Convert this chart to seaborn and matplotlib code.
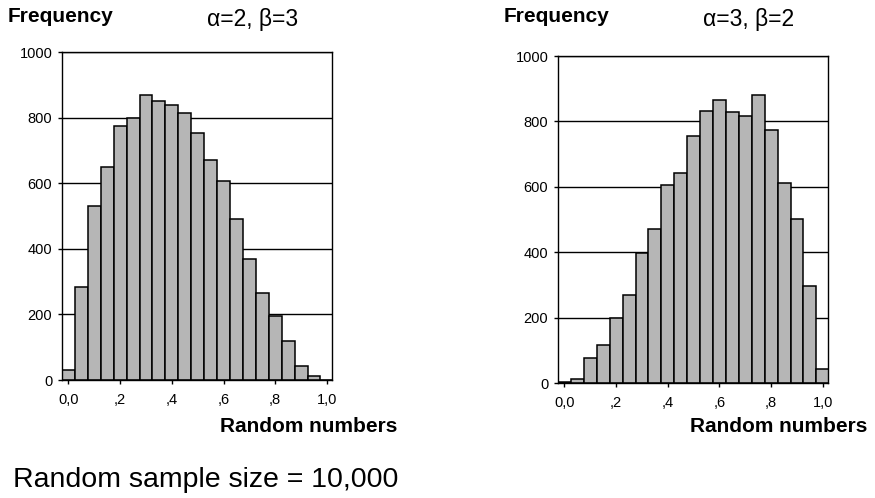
import numpy as np
import matplotlib
matplotlib.use('Agg')
import matplotlib.pyplot as plt
import seaborn as sns

# bin centres and counts
centers = [0.00, 0.05, 0.10, 0.15, 0.20, 0.25, 0.30, 0.35, 0.40, 0.45, 0.50,
           0.55, 0.60, 0.65, 0.70, 0.75, 0.80, 0.85, 0.90, 0.95, 1.00]
counts_a2b3 = [30, 285, 532, 648, 776, 798, 868, 852, 839, 813, 752,
               672, 606, 490, 369, 266, 195, 118, 43, 11, 0]
counts_a3b2 = [4, 13, 77, 116, 198, 268, 397, 470, 607, 642, 756,
               833, 866, 829, 817, 881, 775, 612, 503, 297, 43]

titles = ['\u03b1=2, \u03b2=3', '\u03b1=3, \u03b2=2']
x_ticks = [0.0, 0.2, 0.4, 0.6, 0.8, 1.0]
x_ticklabels = ['0,0', ',2', ',4', ',6', ',8', '1,0']
y_ticks = [0, 200, 400, 600, 800, 1000]

sns.set_style('white')
plt.rcParams['font.family'] = ['Liberation Sans', 'DejaVu Sans']
plt.rcParams['text.color'] = 'black'

fig = plt.figure(figsize=(8.75, 4.98), dpi=100)

# axes boxes in figure fractions (left, bottom, width, height)
boxes = [[0.0709, 0.2369, 0.3086, 0.6586],
         [0.6377, 0.2309, 0.3086, 0.6566]]
# right edge of the "Random numbers" label, figure fraction
xlabel_right = [0.4537, 0.991]

for box, counts, title, xr in zip(boxes, [counts_a2b3, counts_a3b2],
                                  titles, xlabel_right):
    ax = fig.add_axes(box)
    ax.set_axisbelow(True)
    ax.yaxis.grid(True, color='black', linewidth=1.0)
    sns.histplot(x=centers, weights=counts, binwidth=0.05,
                 binrange=(-0.025, 1.025), color='#b6b6b6', alpha=1,
                 edgecolor='black', linewidth=1.1, ax=ax)
    ax.set_xlim(-0.025, 1.02)
    ax.set_ylim(0, 1000)
    ax.set_xticks(x_ticks)
    ax.set_xticklabels(x_ticklabels)
    ax.set_yticks(y_ticks)
    ax.tick_params(axis='both', labelsize=10.5, colors='black',
                   direction='out', length=3, width=1, pad=4,
                   bottom=True, left=True)
    ax.tick_params(axis='x', pad=6)
    ax.set_xlabel('')
    ax.set_ylabel('')
    for sp in ax.spines.values():
        sp.set_visible(True)
        sp.set_color('black')
        sp.set_linewidth(1.0)

    x0 = box[0]
    fig.text(x0 - 0.062, 0.955, 'Frequency', fontsize=15, fontweight='bold',
             ha='left', va='baseline')
    fig.text(x0 + 0.218, 0.948, title, fontsize=16.5, ha='center',
             va='baseline')
    fig.text(xr, 0.133, 'Random numbers', fontsize=15,
             fontweight='bold', ha='right', va='baseline')

fig.text(0.015, 0.022, 'Random sample size = 10,000', fontsize=20.5,
         ha='left', va='baseline')

fig.savefig('out.png', dpi=100)
